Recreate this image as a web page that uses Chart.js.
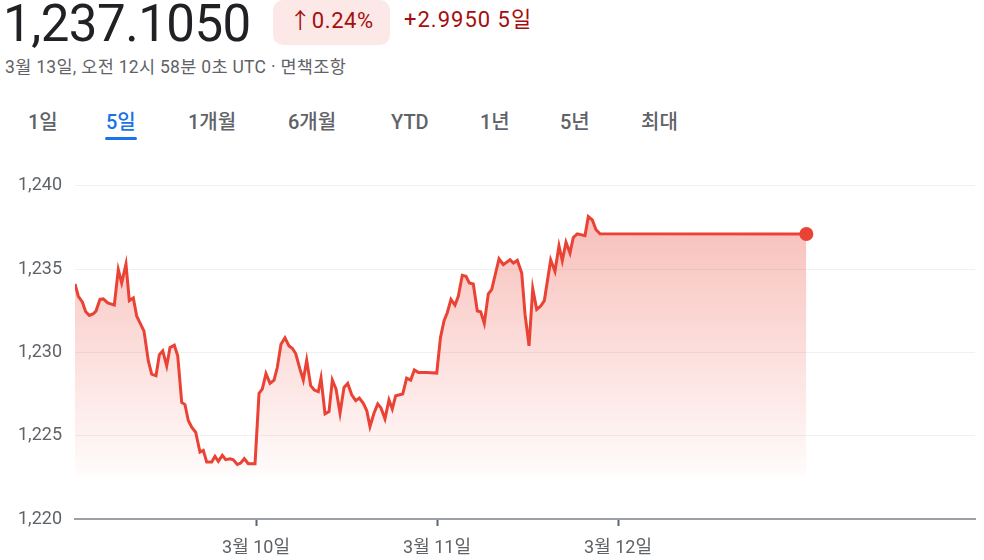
<!DOCTYPE html>
<html lang="ko">
<head>
<meta charset="utf-8">
<script src="https://cdn.jsdelivr.net/npm/chart.js@4/dist/chart.umd.min.js"></script>
<style>
  html, body { margin: 0; padding: 0; background: #fff; }
  body { width: 984px; height: 560px; position: relative; overflow: hidden;
    font-family: Roboto, "Noto Sans CJK KR", sans-serif; }
  .price { position: absolute; left: 3px; top: -6px; font-size: 51px; color: #202124; letter-spacing: -0.5px; }
  .badge { position: absolute; left: 273px; top: 0; width: 117px; height: 45px; border-radius: 10px;
    background: #fce8e6; color: #a50e0e; font-size: 22px; line-height: 42px; text-align: center; letter-spacing: 0.6px; }
  .change { position: absolute; left: 404px; top: 5px; font-size: 22px; line-height: 30px; color: #a50e0e; letter-spacing: 1px; }
  .sub { position: absolute; left: 5px; top: 55px; font-size: 17.5px; line-height: 24px; color: #5f6368; letter-spacing: 0.3px; }
  .tab { position: absolute; top: 108px; font-size: 20px; line-height: 28px; color: #5f6368; font-weight: 500; }
  .tab.on { color: #1a73e8; }
  .tab.on::after { content: ""; position: absolute; left: -1px; right: -1px; top: 29px; height: 3px;
    border-radius: 2px; background: #1a73e8; }
  #wrap { position: absolute; left: 0; top: 162px; width: 984px; height: 398px; }
</style>
</head>
<body>
<div class="price">1,237.1050</div>
<div class="badge">↑0.24%</div>
<div class="change">+2.9950 5일</div>
<div class="sub">3월 13일, 오전 12시 58분 0초 UTC · 면책조항</div>
<div id="tabs"></div>
<div id="wrap"><canvas id="chart"></canvas></div>
<script>
// hours since 3월 9일 00:00 UTC
const hours = [
  0.0, 0.44, 0.97, 1.42, 1.90, 2.43, 2.78, 3.31, 3.75, 4.34, 5.21, 5.74, 6.19, 6.76, 7.20, 7.73, 8.18,
  9.15, 9.72, 10.17, 10.74, 11.18, 11.63, 12.16, 12.60, 13.17, 13.62, 14.15, 14.58, 15.02, 15.47, 16.00,
  16.57, 17.01, 17.46, 18.13, 18.56, 19.00, 19.53, 19.98, 20.55, 20.99, 21.52, 21.97, 22.45, 22.98, 23.87,
  24.40, 24.83, 25.32, 25.86, 26.39, 26.82, 27.31, 27.84, 28.37, 28.81, 29.26, 29.83, 30.27, 30.72, 31.25,
  31.73, 32.26, 32.62, 33.15, 33.68, 34.12, 34.61, 35.14, 35.67, 36.16, 36.69, 37.22, 37.70, 38.23, 38.68,
  39.11, 39.64, 40.14, 40.57, 41.10, 41.63, 42.07, 42.52, 43.45, 43.97, 44.51, 44.99, 45.52, 46.63, 47.96,
  48.46, 48.93, 49.36, 49.85, 50.38, 50.82, 51.35, 51.84, 52.28, 52.81, 53.34, 53.79, 54.27, 54.80, 55.25,
  56.22, 56.79, 57.68, 58.12, 58.65, 59.23, 59.67, 60.20, 60.69, 61.22, 61.75, 62.23, 63.07, 63.64, 64.17,
  64.61, 65.10, 65.63, 66.07, 66.60, 67.62, 68.06, 68.59, 69.08, 69.61, 96.97
];
const rates = [
  1234.11, 1233.37, 1233.03, 1232.44, 1232.22, 1232.32, 1232.48, 1233.18, 1233.21, 1232.97, 1232.84, 1234.97, 1234.17, 1235.30, 1233.11, 1233.27, 1232.18,
  1231.28, 1229.49, 1228.70, 1228.60, 1229.85, 1230.09, 1229.19, 1230.29, 1230.43, 1229.79, 1227.00, 1226.87, 1225.91, 1225.51, 1225.21,
  1224.02, 1224.12, 1223.42, 1223.42, 1223.76, 1223.46, 1223.82, 1223.56, 1223.62, 1223.56, 1223.28, 1223.36, 1223.62, 1223.32, 1223.32,
  1227.54, 1227.80, 1228.73, 1228.14, 1228.34, 1229.09, 1230.49, 1230.88, 1230.39, 1230.25, 1229.93, 1229.00, 1228.34, 1229.53, 1228.00,
  1227.74, 1227.64, 1228.46, 1226.31, 1226.45, 1228.34, 1227.80, 1226.35, 1227.90, 1228.14, 1227.46, 1227.10, 1227.26, 1226.94, 1226.51,
  1225.55, 1226.35, 1226.91, 1226.67, 1226.01, 1227.15, 1226.61, 1227.40, 1227.50, 1228.46, 1228.34, 1228.94, 1228.80, 1228.80, 1228.76,
  1230.90, 1231.90, 1232.38, 1233.18, 1232.84, 1233.37, 1234.63, 1234.57, 1234.17, 1234.11, 1232.48, 1232.44, 1231.74, 1233.51, 1233.77,
  1235.62, 1235.27, 1235.56, 1235.36, 1235.52, 1234.76, 1232.28, 1230.39, 1233.83, 1232.58, 1232.78, 1233.11, 1235.56, 1234.87, 1236.40,
  1235.50, 1236.61, 1235.96, 1236.90, 1237.12, 1237.01, 1238.15, 1237.95, 1237.36, 1237.12, 1237.105
];
const dayTicks = [24, 48, 72];
const dayLabels = ['3월 10일', '3월 11일', '3월 12일'];
const yTicks = [1220, 1225, 1230, 1235, 1240];
const tabs = ['1일', '5일', '1개월', '6개월', 'YTD', '1년', '5년', '최대'];
const tabX = [28, 106, 188, 288, 391, 480, 560, 641];

document.getElementById('tabs').innerHTML = tabs.map((t, i) =>
  `<div class="tab ${t === '5일' ? 'on' : ''}" style="left:${tabX[i]}px">${t}</div>`).join('');

const RED = '#ea4335';
const FONT = 'Roboto, "Noto Sans CJK KR", sans-serif';
const last = rates.length - 1;

new Chart(document.getElementById('chart'), {
  type: 'line',
  data: {
    datasets: [{
      data: hours.map((h, i) => ({ x: h, y: rates[i] })),
      borderColor: RED,
      borderWidth: 3,
      tension: 0,
      pointRadius: ctx => ctx.dataIndex === last ? 7 : 0,
      pointBackgroundColor: RED,
      pointBorderWidth: 0,
      fill: { value: 1222.6 },
      backgroundColor: ctx => {
        const area = ctx.chart.chartArea;
        if (!area) return 'rgba(234,67,53,0.2)';
        const g = ctx.chart.ctx.createLinearGradient(0, area.top + 40, 0, area.top + 295);
        g.addColorStop(0, 'rgba(234,67,53,0.33)');
        g.addColorStop(1, 'rgba(234,67,53,0.01)');
        return g;
      }
    }]
  },
  options: {
    responsive: true,
    maintainAspectRatio: false,
    animation: false,
    layout: { padding: { top: 5, right: 9, left: 0, bottom: 0 } },
    plugins: { legend: { display: false }, tooltip: { enabled: false } },
    scales: {
      x: {
        type: 'linear',
        min: 0,
        max: 119.33,
        afterBuildTicks: axis => { axis.ticks = dayTicks.map(v => ({ value: v })); },
        afterFit: axis => { axis.height = 41; },
        border: { display: true, color: '#9aa0a6', width: 2 },
        grid: { drawOnChartArea: false, drawTicks: true, tickLength: 7, tickWidth: 2, color: '#5f6368' },
        ticks: {
          color: '#5f6368', font: { family: FONT, size: 18 }, padding: 12, maxRotation: 0,
          callback: v => dayLabels[dayTicks.indexOf(v)]
        }
      },
      y: {
        min: 1220,
        max: 1240,
        afterBuildTicks: axis => { axis.ticks = yTicks.map(v => ({ value: v })); },
        afterFit: axis => { axis.width = 75; },
        border: { display: false },
        grid: { color: '#f1f1f1', drawTicks: false, lineWidth: ctx => ctx.tick && ctx.tick.value === 1220 ? 0 : 1 },
        ticks: {
          color: '#5f6368', font: { family: FONT, size: 18 }, padding: 13,
          callback: v => v.toLocaleString('en-US')
        }
      }
    }
  }
});
</script>
</body>
</html>
